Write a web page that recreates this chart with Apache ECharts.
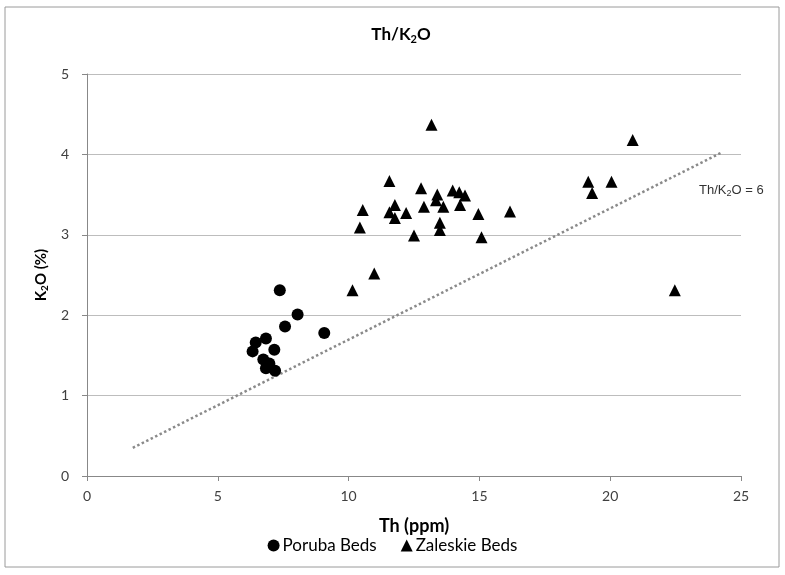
<!DOCTYPE html>
<html><head><meta charset="utf-8">
<script src="https://cdn.jsdelivr.net/npm/echarts@6/dist/echarts.min.js"></script>
<style>html,body{margin:0;padding:0;background:#fff}#c{width:785px;height:575px}</style>
</head><body><div id="c"></div>
<script>
const poruba = [[7.37,2.31],[8.05,2.01],[7.57,1.86],[9.07,1.78],[6.84,1.71],[6.45,1.66],[6.33,1.55],[7.16,1.57],[6.74,1.45],[6.97,1.40],[6.84,1.34],[7.19,1.31]];
const zaleskie = [[13.17,4.37],[11.56,3.67],[12.77,3.58],[13.39,3.50],[13.98,3.55],[14.23,3.53],[14.45,3.49],[10.54,3.31],[11.77,3.37],[11.56,3.28],[11.77,3.21],[12.2,3.27],[12.88,3.35],[13.34,3.43],[13.62,3.35],[14.26,3.37],[13.49,3.15],[13.49,3.06],[10.43,3.09],[14.96,3.26],[12.5,2.99],[15.08,2.97],[16.17,3.29],[20.86,4.18],[19.16,3.66],[20.05,3.66],[19.31,3.52],[10.98,2.52],[10.15,2.31],[22.47,2.31]];
const ratioLine = [[1.75,0.35],[24.3,4.03]];
const xTicks = {min:0,max:25,interval:5};
const yTicks = {min:0,max:5,interval:1};
const FONT = 'Lato, "Open Sans", sans-serif';
const chart = echarts.init(document.getElementById('c'));
chart.setOption({
  animation:false,
  title:{text:'{a|Th/K}{s|2}{a|O}',left:396,top:20,textAlign:'center',
    textStyle:{rich:{a:{fontFamily:FONT,fontWeight:'bold',fontSize:17,color:'#000'},
                     s:{fontFamily:FONT,fontWeight:'bold',fontSize:11,color:'#000',padding:[9,0,0,0]}}}},
  grid:{left:87,right:44,top:74,bottom:99},
  legend:{bottom:16,left:'center',itemWidth:12,itemHeight:12,itemGap:24,
    textStyle:{fontFamily:FONT,fontSize:17,color:'#000',padding:[0,0,0,-2]},
    data:[{name:'Poruba Beds',icon:'circle'},{name:'Zaleskie Beds',icon:'triangle'}]},
  xAxis:{type:'value',min:xTicks.min,max:xTicks.max,interval:xTicks.interval,
    name:'Th (ppm)',nameLocation:'middle',nameGap:41,
    nameTextStyle:{fontFamily:FONT,fontWeight:'bold',fontSize:18,color:'#000'},
    axisLine:{lineStyle:{color:'#888'}},axisTick:{show:true,length:5,lineStyle:{color:'#888'}},
    splitLine:{show:false},
    axisLabel:{fontFamily:FONT,fontSize:14,color:'#404040',margin:13}},
  yAxis:{type:'value',min:yTicks.min,max:yTicks.max,interval:yTicks.interval,
    name:'{a|K}{s|2}{a|O (%)}',nameLocation:'middle',nameGap:30,nameRotate:90,
    nameTextStyle:{rich:{a:{fontFamily:FONT,fontWeight:'bold',fontSize:15,color:'#000'},
                         s:{fontFamily:FONT,fontWeight:'bold',fontSize:10,color:'#000',padding:[8,0,0,0]}}},
    axisLine:{show:true,lineStyle:{color:'#888'}},axisTick:{show:true,length:5,lineStyle:{color:'#888'}},
    splitLine:{lineStyle:{color:'#bdbdbd',width:1}},
    axisLabel:{fontFamily:FONT,fontSize:14,color:'#404040',margin:18}},
  graphic:[
    {type:'rect',shape:{x:5,y:7,width:774,height:560},style:{fill:'none',stroke:'#9a9a9a',lineWidth:1},silent:true,z:-1},
    {type:'text',left:699,top:184,style:{text:'{a|Th/K}{s|2}{a|O = 6}',
      rich:{a:{fontFamily:'"Liberation Sans", sans-serif',fontSize:13,fill:'#333'},
            s:{fontFamily:'"Liberation Sans", sans-serif',fontSize:9,fill:'#333',padding:[7,0,0,0]}}}}
  ],
  series:[
    {name:'Th/K2O = 6',type:'line',data:ratioLine,symbol:'none',silent:true,
      lineStyle:{type:'dotted',color:'#8a8a8a',width:2.5},z:1},
    {name:'Poruba Beds',type:'scatter',data:poruba,symbol:'circle',symbolSize:12,
      itemStyle:{color:'#000',opacity:1},z:3},
    {name:'Zaleskie Beds',type:'scatter',data:zaleskie,symbol:'triangle',symbolSize:12,
      itemStyle:{color:'#000',opacity:1},z:3}
  ]
});
</script></body></html>
